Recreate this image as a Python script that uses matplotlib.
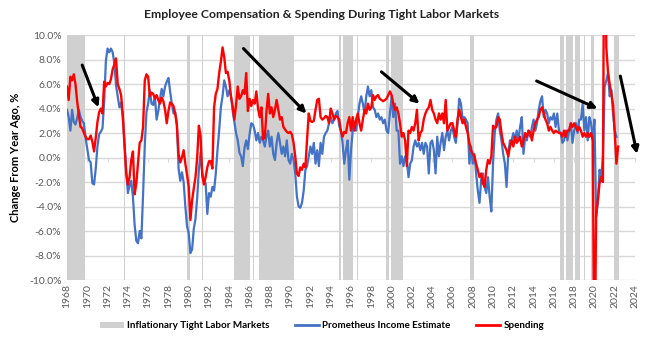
import numpy as np
import matplotlib
matplotlib.use("Agg")
import matplotlib.pyplot as plt
from matplotlib.patches import Patch
from matplotlib.lines import Line2D

plt.rcParams['font.family'] = ['Lato', 'DejaVu Sans']

# year-over-year % change, sampled every two months (Jan, Mar, May, Jul, Sep, Nov)
spending = [
    5.8, 4.7, 6.6, 6.3, 6.8, 6.0,      # 1968
    4.6, 3.5, 2.5, 2.4, 2.0, 1.7,
    1.5, 1.5, 1.8, 1.3, 0.5, 1.6,      # 1970
    2.9, 3.7, 4.0, 3.6, 6.2, 5.8,
    6.1, 6.0, 6.4, 7.2, 7.6, 8.1,
    6.0, 5.6, 5.1, 3.5, 1.0, -1.3,
    -2.2, -1.6, -0.2, 0.5, -3.0, -2.1,
    -0.4, 1.2, 1.4, 2.5, 6.3, 6.8,
    6.6, 5.0, 5.3, 5.2, 4.8, 5.1,
    4.7, 4.4, 4.9, 4.6, 3.9, 2.8,
    3.8, 4.5, 4.4, 4.2, 3.6, 2.6,
    0.3, -0.4, 0.0, 0.6, -0.5, -1.4,
    -2.4, -5.1, -3.5, -2.5, -1.6, 0.0,  # 1980
    2.6, 1.8, -1.5, -2.2, -1.6, -0.8,
    -0.3, -0.3, -0.9, 4.1, 5.2, 5.6,
    6.9, 7.8, 9.0, 8.2, 6.9, 7.0,
    6.3, 5.0, 4.2, 3.1, 4.3, 5.8,
    4.8, 5.0, 5.5, 5.2, 6.9, 3.8,
    4.8, 4.2, 4.7, 4.4, 5.4, 4.0,
    3.3, 4.1, 1.5, 1.6, 3.8, 5.2,
    3.6, 4.1, 3.3, 3.9, 4.7, 3.9,
    3.1, 3.3, 2.5, 2.3, 2.1, 2.0,
    2.1, 1.9, 1.2, 0.1, -1.3, -1.5,     # 1990
    -0.8, -1.0, -0.5, -0.8, 1.5, 3.6,
    3.0, 2.9, 3.0, 3.9, 4.7, 4.8,
    3.3, 3.1, 3.2, 3.4, 3.3, 2.8,
    4.0, 3.6, 3.1, 3.4, 3.3, 3.1,
    2.2, 1.7, 2.1, 2.0, 2.8, 3.3,
    2.2, 3.3, 2.2, 3.1, 3.6, 2.8,
    2.2, 3.1, 3.9, 3.6, 4.4, 3.9,
    4.1, 5.1, 4.7, 5.0, 5.1, 4.8,
    4.7, 4.6, 4.7, 4.8, 5.1, 5.4,
    5.1, 4.4, 3.9, 4.1, 3.6, 2.8,      # 2000
    1.7, 2.0, 1.4, -0.7, 2.2, 2.0,
    2.5, 2.2, 2.8, 3.9, 1.4, 2.0,
    2.2, 3.1, 3.6, 3.9, 4.1, 4.7,
    3.9, 3.6, 3.1, 2.8, 3.6, 3.1,
    3.6, 2.8, 4.7, 2.2, 2.5, 2.8,
    2.8, 2.2, 1.7, 3.1, 3.9, 3.3,
    2.8, 3.1, 2.5, 2.0, 1.2, 0.6,
    0.3, 0.1, -0.5, -1.0, -1.6, -1.3,
    -2.1, -2.4, -1.0, -0.2, -0.5, 0.1,
    2.6, 2.4, 2.5, 3.3, 3.1, 2.0,      # 2010
    1.2, 0.9, 0.6, 0.1, 0.9, 1.4,
    0.9, 1.7, 1.2, 1.4, 1.7, 0.9,
    1.4, 2.0, 1.7, 2.2, 2.0, 1.4,
    2.2, 2.8, 3.1, 3.3, 3.9, 4.1,
    3.6, 3.1, 2.8, 2.2, 2.5, 2.2,
    2.0, 2.2, 2.1, 2.0, 2.0, 1.7,
    2.2, 1.7, 2.2, 2.2, 2.8, 2.5,
    2.8, 2.5, 2.2, 2.5, 2.2, 1.7,
    2.0, 1.7, 2.0, 1.7, 2.0, 1.4,
    -19.0, -4.5, -3.5, -2.1, -1.6, -2.0,  # 2020
    26.0, 9.0, 7.0, 6.0, 5.2, 4.3,
    2.0, -0.5, 0.9,
]

income = [
    3.9, 3.3, 2.2, 3.9, 2.9, 2.7,      # 1968
    3.2, 3.9, 3.3, 3.0, 2.8, 1.6,
    0.7, -0.2, -0.4, -2.1, -2.2, -0.9,  # 1970
    0.9, 1.9, 2.1, 2.4, 4.6, 7.9,
    8.9, 8.6, 8.9, 8.6, 7.7, 5.9,
    5.0, 4.1, 4.5, 3.3, 1.3, -1.0,
    -2.9, -2.3, -1.9, -3.2, -5.5, -6.8,
    -7.0, -6.0, -6.6, -3.0, 1.0, 3.7,
    4.4, 5.5, 4.4, 4.3, 5.0, 3.1,
    3.8, 4.8, 5.6, 5.0, 5.8, 6.2,
    6.5, 5.4, 4.4, 3.6, 3.7, 2.8,
    -0.9, -1.9, -1.2, -2.0, -4.0, -5.6,
    -6.2, -7.8, -7.5, -5.8, -5.0, -3.3,  # 1980
    -1.0, 0.4, -1.2, -1.9, -2.1, -4.6,
    -2.9, -3.2, -2.4, -2.7, -1.3, 0.6,
    2.2, 4.1, 5.0, 6.3, 5.8, 5.0,
    5.5, 5.0, 3.8, 2.9, 2.0, 1.4,
    0.4, 0.1, -0.7, 0.8, 1.4, 0.7,
    1.9, 2.8, 2.7, 2.2, 1.4, 2.0,
    1.2, 1.7, 1.4, 0.9, 1.7, 2.2,
    0.9, 1.7, 0.3, -0.2, 1.2, 2.0,
    1.2, 0.3, 0.9, 0.1, 1.4, -0.2,
    -0.5, 0.3, -0.2, -1.3, -3.2, -4.0,  # 1990
    -4.1, -3.7, -2.7, -1.0, -0.7, 0.1,
    0.9, 0.3, 1.2, -0.5, 0.6, -0.7,
    1.2, 0.3, 1.7, 2.0, 2.2, 2.8,
    3.3, 2.8, 3.1, 3.6, 3.8, 2.6,
    2.2, 1.2, -0.5, 0.6, 1.4, -1.8,
    0.6, 2.2, 2.8, 2.2, 3.3, 4.4,
    5.0, 4.4, 3.6, 5.0, 5.8, 5.0,
    5.5, 4.1, 3.9, 3.3, 3.6, 3.1,
    3.3, 2.8, 3.1, 2.2, 2.0, 3.6,
    5.0, 3.3, 4.4, 2.2, 2.2, -0.5,     # 2000
    0.1, -0.7, 0.1, -0.2, -1.6, -0.5,
    -0.2, 0.9, 1.4, 0.9, 1.2, 0.6,
    1.2, 0.3, 1.2, 0.9, -1.3, 1.2,
    1.4, 0.6, -1.3, 1.7, 0.1, 1.2,
    2.0, 0.6, 1.7, 2.2, 1.4, 2.2,
    2.5, 1.7, 1.2, 2.8, 4.8, 4.4,
    3.1, 3.3, 3.1, 2.8, -0.5, 0.9,
    -0.5, 0.3, -1.3, -2.7, -3.7, -1.8,
    -1.3, -2.4, -2.9, -1.6, -3.2, -4.4,
    -0.5, 2.0, 3.1, 3.6, 2.2, 1.4,     # 2010
    0.3, -0.5, -2.4, 0.3, 1.4, 1.4,
    2.0, 1.4, 2.2, 1.4, 2.5, 3.3,
    0.3, 1.7, 1.4, 2.2, 1.7, 2.5,
    3.1, 2.2, 2.8, 3.9, 4.6, 5.0,
    3.3, 3.9, 3.6, 2.8, 3.3, 3.1,
    3.6, 2.5, 3.6, 2.2, 2.0, 1.2,
    1.4, 2.2, 1.4, 2.2, 2.8, 1.2,
    2.2, 2.8, 2.0, 3.1, 3.1, 4.4,
    2.2, 3.3, 1.4, 3.3, 2.8, 1.4,
    3.1, -4.8, -3.7, -1.0, -1.6, 0.1,  # 2020
    5.8, 6.3, 6.9, 5.0, 5.5, 3.6,
    2.2, 1.7,
]

# periods of inflationary tight labor markets (decimal years)
tight_starts = [1968.0, 1973.62, 1979.85, 1981.28, 1984.45, 1986.36, 1986.6, 1986.95,
                1994.86, 1995.18, 1996.36, 1996.62, 1999.45, 1999.95, 2007.1,
                2007.7, 2016.63, 2017.2, 2018.05, 2018.96, 2019.32, 2019.65, 2021.96]
tight_ends = [1969.75, 1973.76, 1980.08, 1981.4, 1986.0, 1986.44, 1986.66, 1990.42,
              1995.04, 1996.2, 1996.42, 1996.7, 1999.78, 2001.15, 2007.18,
              2008.1, 2016.98, 2017.87, 2018.58, 2019.04, 2019.4, 2019.95, 2022.38]

# annotation arrows: (x0, y0, x1, y1)
arrows = [
    (1969.5, 7.55, 1971.1, 4.1),
    (1985.4, 8.9, 1991.6, 3.6),
    (1999.0, 7.0, 2002.75, 4.4),
    (2014.3, 6.25, 2020.3, 4.0),
    (2022.55, 6.65, 2024.2, 0.3),
]

years_sp = 1968 + np.arange(len(spending)) / 6
years_inc = 1968 + np.arange(len(income)) / 6

fig = plt.figure(figsize=(6.48, 3.44), dpi=100)
ax = fig.add_axes([0.1034, 0.186, 0.8766, 0.712])

for s, e in zip(tight_starts, tight_ends):
    ax.axvspan(s, e, color='#d0d0d0', lw=0, zorder=1)

ax.plot(years_inc, income, color='#4472C4', lw=1.6, zorder=3)
ax.plot(years_sp, spending, color='#FF0000', lw=1.7, zorder=4)

for x0, y0, x1, y1 in arrows:
    ax.annotate('', xy=(x1, y1), xytext=(x0, y0), annotation_clip=False,
                arrowprops=dict(arrowstyle='-|>', color='black', lw=2.2,
                                mutation_scale=10, shrinkA=0, shrinkB=0),
                zorder=6)

ax.set_xlim(1968, 2024)
ax.set_ylim(-10, 10)
ax.set_yticks(np.arange(-10, 10.1, 2))
ax.set_yticklabels([f'{v:.1f}%' for v in np.arange(-10, 10.1, 2)])
ax.yaxis.grid(True, color='#d9d9d9', lw=1)
ax.set_axisbelow(True)
ax.tick_params(axis='y', length=0, labelsize=7.5, labelcolor='#595959', pad=4)

for side in ['top', 'right', 'left']:
    ax.spines[side].set_visible(False)
ax.spines['bottom'].set_position(('data', 0))
ax.spines['bottom'].set_color('#d9d9d9')
ax.spines['bottom'].set_zorder(0)

xt = np.arange(1968, 2025, 2)
ax.set_xticks(xt)
ax.tick_params(axis='x', length=3, color='#d9d9d9', labelbottom=False)

sec = ax.secondary_xaxis(0)
sec.set_xticks(xt)
sec.set_xticklabels([str(y) for y in xt], rotation=90)
sec.tick_params(length=0, labelsize=7.5, labelcolor='#595959', pad=3)
sec.spines['bottom'].set_visible(False)

ax.set_ylabel('Change From Year Ago, %', fontsize=8, fontweight='bold', labelpad=6)

fig.suptitle('Employee Compensation & Spending During Tight Labor Markets',
             fontsize=8.8, fontweight='bold', x=0.497, y=0.975, color='#222222')

handles = [Patch(facecolor='#d0d0d0', edgecolor='none'),
           Line2D([], [], color='#4472C4', lw=2),
           Line2D([], [], color='#FF0000', lw=2)]
labels = ['Inflationary Tight Labor Markets', 'Prometheus Income Estimate', 'Spending']
fig.legend(handles, labels, loc='center', ncol=3, frameon=False,
           bbox_to_anchor=(0.497, 0.053), handlelength=2.4,
           handleheight=0.6, handletextpad=0.35, columnspacing=2.6,
           prop={'weight': 'bold', 'size': 7.1})

fig.savefig('out.png', dpi=100)
